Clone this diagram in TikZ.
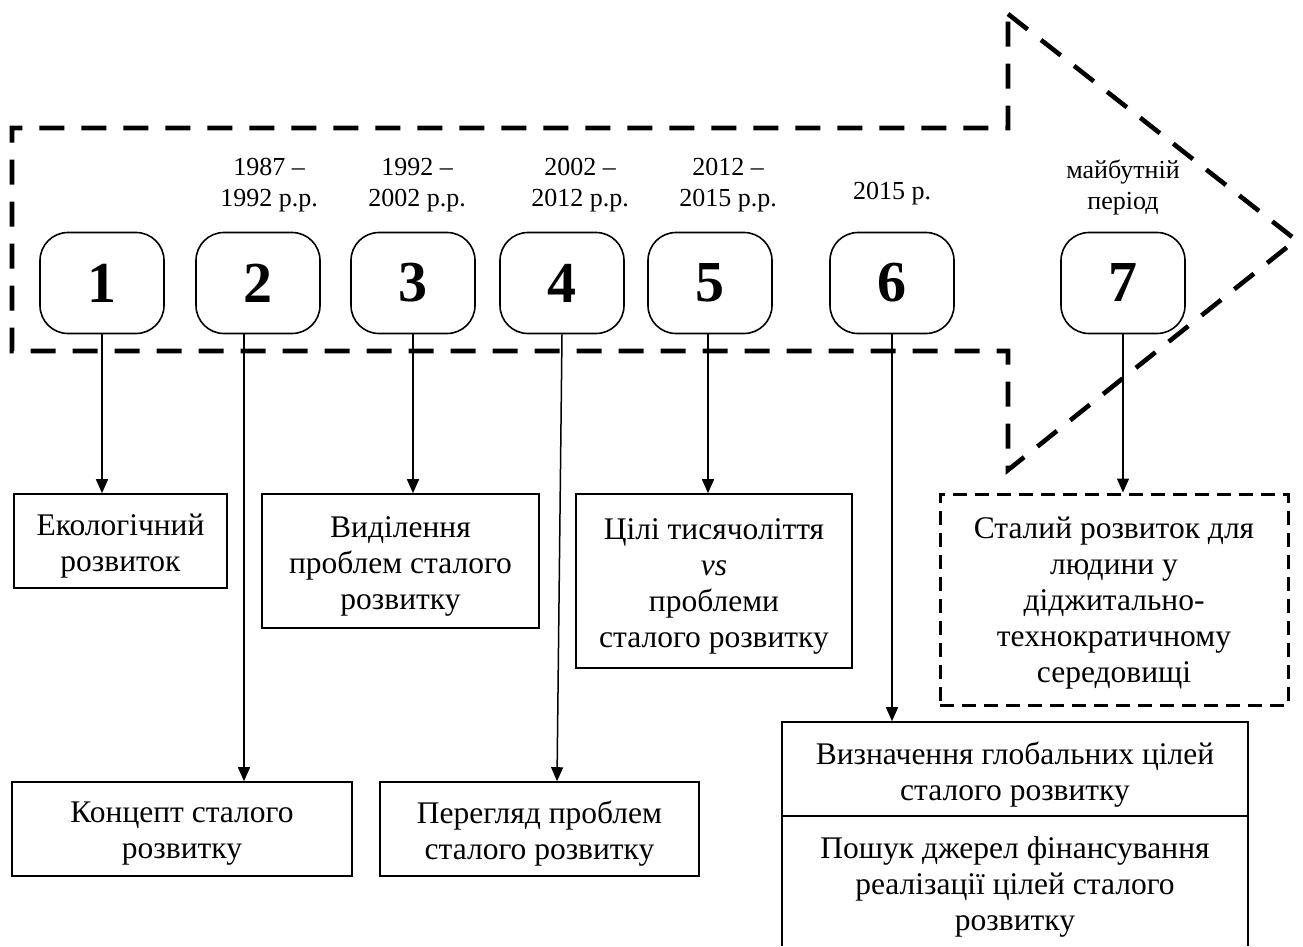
\documentclass[tikz,border=0pt]{standalone}
\usepackage{fontspec}
\setmainfont{Liberation Serif}
\usetikzlibrary{arrows.meta}
\begin{document}
\begin{tikzpicture}[x=1pt,y=-1pt,
  datelbl/.style={font=\fontsize{26}{31}\selectfont, align=center, inner sep=0pt},
  numbox/.style={draw, line width=1.6pt, rounded corners=28pt, minimum width=124pt, minimum height=101pt, inner sep=0pt, fill=white, font=\fontsize{58}{60}\selectfont\bfseries},
  textbox/.style={draw, line width=1.6pt, inner sep=0pt},
  txt/.style={inner sep=0pt, align=center, font=\fontsize{31.5}{36}\selectfont},
  arr/.style={line width=1.5pt, -{Triangle[length=14pt,width=12pt]}},
  bigarrow/.style={line width=4.6pt, dash pattern=on 25pt off 17pt, line join=miter},
  dbox/.style={textbox, line width=3pt, dash pattern=on 14pt off 8pt}
]
\useasboundingbox (0,0) rectangle (1303,946);

% big dashed arrow outline
\draw[bigarrow] (1008,14) -- (1296,240) -- (1008,470) -- (1008,351) -- (12,351) -- (12,128) -- (1008,128) -- cycle;

% date labels
\node[datelbl] (l2) at (269,185) {1987 –\\1992 р.р.};
\node[datelbl] (l3) at (417,185) {1992 –\\2002 р.р.};
\node[datelbl] (l4) at (580,185) {2002 –\\2012 р.р.};
\node[datelbl] (l5) at (728,185) {2012 –\\2015 р.р.};
\node[datelbl] (l6) at (892,194) {2015 р.};
\node[datelbl] (l7) at (1123,187) {майбутній\\період};

% numbered boxes
\node[numbox] (b1) at (102,283) {1};
\node[numbox] (b2) at (258,283) {2};
\node[numbox] (b3) at (413,283) {3};
\node[numbox] (b4) at (562,283) {4};
\node[numbox] (b5) at (710,283) {5};
\node[numbox] (b6) at (892,283) {6};
\node[numbox] (b7) at (1123,283) {7};

% description boxes
\node[textbox, minimum width=213pt, minimum height=94pt] (eko) at (120.5,541) {};
\node[txt] (ekot) at ([yshift=-5pt]eko.center) {Екологічний\\розвиток};
\node[textbox, minimum width=277pt, minimum height=134pt] (vyd) at (400.5,561) {};
\node[txt] (vydt) at ([yshift=-5pt]vyd.center) {Виділення\\проблем сталого\\розвитку};
\node[textbox, minimum width=276pt, minimum height=174pt] (tsili) at (714,581) {};
\node[txt] (tsilit) at ([yshift=-5pt]tsili.center) {Цілі тисячоліття\\\textit{vs}\\проблеми\\сталого розвитку};
\node[dbox, minimum width=348pt, minimum height=211pt] (fut) at (1114,599.5) {};
\node[txt] (futt) at ([yshift=-4pt]fut.center) {Сталий розвиток для\\людини у\\діджитально-\\технократичному\\середовищі};
\node[textbox, minimum width=340pt, minimum height=94pt] (konc) at (182,829) {};
\node[txt] (konct) at ([yshift=-5pt]konc.center) {Концепт сталого\\розвитку};
\node[textbox, minimum width=319pt, minimum height=94pt] (pereg) at (539.5,829) {};
\node[txt] (peregt) at ([yshift=-5pt]pereg.center) {Перегляд проблем\\сталого розвитку};
\node[textbox, minimum width=466pt, minimum height=94pt] (vyz) at (1015,769) {};
\node[txt] (vyzt) at ([yshift=-6pt]vyz.center) {Визначення глобальних цілей\\сталого розвитку};
\node[inner sep=0pt, minimum width=466pt, minimum height=130pt] (posh) at (1015,881) {};
\node[txt] (posht) at ([yshift=-6pt]posh.center) {Пошук джерел фінансування\\реалізації цілей сталого\\розвитку};
\draw[line width=1.6pt] (posh.south west) -- (posh.north west);
\draw[line width=1.6pt] (posh.north east) -- (posh.south east);

% connectors
\draw[arr] (b1.south) -- (b1.south |- eko.north);
\draw[arr] ([xshift=-14pt]b2.south) -- ([xshift=-14pt]b2.south |- konc.north);
\draw[arr] (b3.south) -- (b3.south |- vyd.north);
\draw[arr] (b4.south) -- ([xshift=17.5pt]pereg.north);
\draw[arr] ([xshift=-2pt]b5.south) -- ([xshift=-2pt]b5.south |- tsili.north);
\draw[arr] (b6.south) -- (b6.south |- vyz.north);
\draw[arr] (b7.south) -- (b7.south |- fut.north);
\end{tikzpicture}
\end{document}
